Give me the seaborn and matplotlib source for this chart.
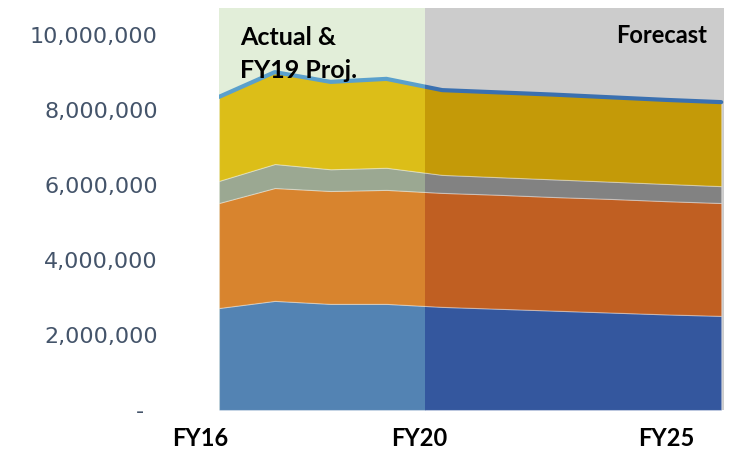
import numpy as np
import pandas as pd
import matplotlib
matplotlib.use('Agg')
import matplotlib.pyplot as plt
import matplotlib.transforms as mtransforms
from matplotlib.patches import Rectangle
import seaborn as sns

# data (millions)
years = ['FY16', 'FY17', 'FY18', 'FY19', 'FY20', 'FY21', 'FY22', 'FY23', 'FY24', 'FY25']
blue = [2.72, 2.91, 2.83, 2.83, 2.75, 2.70, 2.65, 2.60, 2.55, 2.51]
orange = [2.80, 3.01, 3.01, 3.04, 3.04, 3.04, 3.03, 3.03, 3.02, 3.01]
grey = [0.59, 0.64, 0.58, 0.59, 0.48, 0.47, 0.47, 0.46, 0.46, 0.45]
gold = [2.24, 2.45, 2.33, 2.37, 2.26, 2.26, 2.26, 2.25, 2.24, 2.24]
x_labels = ['FY16', 'FY20', 'FY25']
y_ticks = [0, 2, 4, 6, 8, 10]

df = pd.DataFrame({'year': years, 'blue': blue, 'orange': orange, 'grey': grey, 'gold': gold})
df['x'] = np.arange(len(df))
df[['blue', 'orange', 'grey', 'gold']] *= 1e6
df['total'] = df[['blue', 'orange', 'grey', 'gold']].sum(axis=1)

#%%

sns.set_style('white')
plt.rcParams['font.family'] = ['Lato', 'DejaVu Sans']

fig = plt.figure(figsize=(7.3, 4.55), dpi=100)
ax = fig.add_axes([219/730, 45/455, 505/730, 402/455])

split = 3.70  # actual / forecast boundary
ymax = 10.72e6

actual_cols = ['#5383b3', '#d8842e', '#9ba892', '#dcbe18']
fcst_cols = ['#34579e', '#c05f22', '#828282', '#c49a08']

ax.axvspan(0, split, color='#e2eed9', zorder=0, lw=0)
ax.axvspan(split, 9.05, color='#cccccc', zorder=0, lw=0)

layers = [df['blue'], df['orange'], df['grey'], df['gold']]
for cols, x0, x1, lc in [(actual_cols, 0, split, '#5aa0cc'), (fcst_cols, split, 9.05, '#3a70b0')]:
    clip = Rectangle((x0, 0), x1 - x0, ymax, transform=ax.transData)
    polys = ax.stackplot(df['x'], *layers, colors=cols, zorder=2,
                         edgecolor=(1, 1, 1, 0.35), linewidth=0.8)
    for p in polys:
        p.set_clip_path(clip)
    n = len(ax.lines)
    sns.lineplot(data=df, x='x', y='total', color=lc, linewidth=3, ax=ax, zorder=3)
    for ln in ax.lines[n:]:
        ln.set_clip_path(clip)

ax.set_xlim(0, 9.05)
ax.set_ylim(0, ymax)
ax.set_xlabel('')
ax.set_ylabel('')
ax.set_xticks([])
ax.set_yticks([v * 1e6 for v in y_ticks])
ax.set_yticklabels(['-  '] + [f'{v*1e6:,.0f}' for v in y_ticks[1:]],
                   color='#44546a', fontsize=16, fontfamily='DejaVu Sans')
ax.tick_params(axis='y', length=0, pad=44)
for s in ax.spines.values():
    s.set_visible(False)

trans = mtransforms.blended_transform_factory(ax.transData, ax.transAxes)
for lab, xp in zip(x_labels, [-0.34, 3.59, 8.02]):
    ax.text(xp, -0.07, lab, transform=trans, ha='center', va='center',
            fontsize=17, fontweight='bold', color='black')

ax.text(0.042, 0.908, 'Actual &', transform=ax.transAxes, ha='left', va='baseline',
        fontsize=18, fontweight='bold', color='black', zorder=5)
ax.text(0.042, 0.826, 'FY19 Proj.', transform=ax.transAxes, ha='left', va='baseline',
        fontsize=18, fontweight='bold', color='black', zorder=5)
ax.text(0.967, 0.913, 'Forecast', transform=ax.transAxes, ha='right', va='baseline',
        fontsize=17, fontweight='bold', color='black', zorder=5)

plt.savefig('out.png', dpi=100)
